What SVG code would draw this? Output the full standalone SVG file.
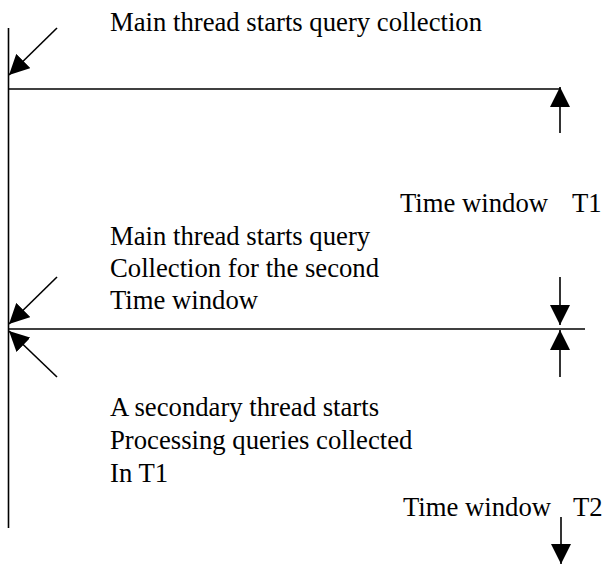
<svg xmlns="http://www.w3.org/2000/svg" width="604" height="575" viewBox="0 0 604 575">
<style>
.ln{stroke:#000;stroke-width:1.6;fill:none}
.ar{stroke:#000;stroke-width:1.6;fill:none;marker-end:url(#head)}
text{font-family:"Liberation Serif","Times New Roman",serif;font-size:26.7px;fill:#000}
</style>
<defs>
<marker id="head" viewBox="0 0 20 20" refX="20" refY="10" markerWidth="20" markerHeight="20" markerUnits="userSpaceOnUse" orient="auto">
<path d="M0,0 L20,10 L0,20 Z" fill="#000"/>
</marker>
</defs>
<rect width="604" height="575" fill="#fff"/>
<g id="timeline">
<line class="ln" x1="8.5" y1="28" x2="8.5" y2="528"/>
<line class="ln" x1="8.5" y1="89" x2="560" y2="89"/>
<line class="ln" x1="8.5" y1="329" x2="585" y2="329"/>
</g>
<g id="connectors">
<line class="ar" x1="57" y1="28" x2="9" y2="75"/>
<line class="ar" x1="560" y1="133" x2="560" y2="87"/>
<line class="ar" x1="560" y1="277" x2="560" y2="325"/>
<line class="ar" x1="560" y1="377" x2="560" y2="330"/>
<line class="ar" x1="57" y1="277" x2="9" y2="324"/>
<line class="ar" x1="57" y1="377" x2="9" y2="331"/>
<line class="ar" x1="561" y1="517" x2="561" y2="564"/>
</g>
<g id="label-start">
<text x="110" y="31">Main thread starts query collection</text>
</g>
<g id="label-t1">
<text y="212"><tspan x="400">Time window</tspan><tspan x="572">T1</tspan></text>
</g>
<g id="label-second">
<text x="110" y="245">Main thread starts query</text>
<text x="110" y="277">Collection for the second</text>
<text x="110" y="309">Time window</text>
</g>
<g id="label-secondary">
<text x="110" y="416">A secondary thread starts</text>
<text x="110" y="449">Processing queries collected</text>
<text x="110" y="482">In T1</text>
</g>
<g id="label-t2">
<text y="516"><tspan x="403">Time window</tspan><tspan x="573">T2</tspan></text>
</g>
</svg>
